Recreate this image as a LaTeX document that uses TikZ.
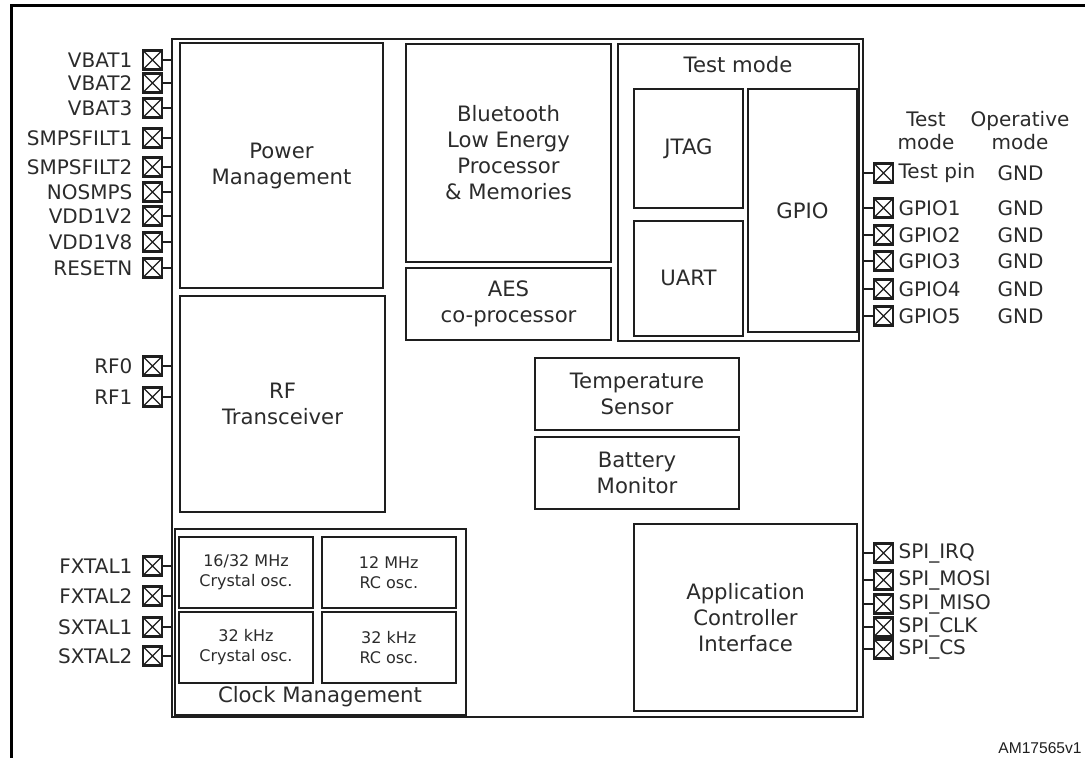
\documentclass[tikz,border=0pt]{standalone}
\usepackage{fontspec}
\setmainfont{DejaVu Sans}
\newfontfamily\idfont{Liberation Sans}
\usepackage{tikz}
\usetikzlibrary{positioning}

\definecolor{ink}{HTML}{1E1E1E}
\definecolor{txt}{HTML}{2B2B2B}

\begin{document}
\begin{tikzpicture}[x=0.5pt,y=-0.5pt,line join=miter,
                    block/.style={draw=ink,line width=0.9pt,align=center,text=txt,inner sep=0pt,
                                  font=\fontsize{10.6}{13}\selectfont},
                    osc/.style={block,minimum width=67pt,minimum height=35.5pt,
                                font=\fontsize{8}{10}\selectfont},
                    title/.style={text=txt,font=\fontsize{10.6}{13}\selectfont},
                    small/.style={text=txt,font=\fontsize{10}{11.5}\selectfont},
                    pad/.style={draw=ink,line width=1.2pt,minimum size=9.5pt,inner sep=0pt,
                                path picture={\draw[ink,line width=0.6pt]
                                  (path picture bounding box.south west) -- (path picture bounding box.north east)
                                  (path picture bounding box.north west) -- (path picture bounding box.south east);}},
                    padL/.style={pad,label={[label distance=4.5pt]left:#1}},
                    padR/.style={pad,label={[label distance=2pt]right:#1}},
                    every label/.style={text=txt,inner sep=0pt,font=\fontsize{10}{11.5}\selectfont},
                    wire/.style={draw=ink,line width=0.7pt},
                    frame/.style={draw=black,line width=1.5pt}]

  \useasboundingbox (0,0) rectangle (1085,758);
  \draw[frame] (1085,6) -| (11,758);

  % chip and its blocks
  \node[block,minimum width=345.5pt,minimum height=339pt] (chip) at (517.5,378) {};

  \node[block,minimum width=101.5pt,minimum height=122.5pt] (pm)  at (281.5,165.5) {Power\\Management};
  \node[block,minimum width=102.5pt,minimum height=108pt]   (rf)  at (282.5,404)   {RF\\Transceiver};
  \node[block,minimum width=102.5pt,minimum height=109pt]   (ble) at (508.5,153)   {Bluetooth\\Low Energy\\Processor\\\& Memories};
  \node[block,minimum width=102.5pt,minimum height=36pt]    (aes) [below=2pt of ble] {AES\\co-processor};

  \node[block,minimum width=120.5pt,minimum height=148.5pt] (test) at (738.5,192.5) {};
  \node[title] (testname) at (738,65) {Test mode};
  \node[block,minimum width=54.5pt,minimum height=59.5pt]  (jtag) at (688.5,148.5) {JTAG};
  \node[block,minimum width=54.5pt,minimum height=57.5pt]  (uart) [below=5.5pt of jtag] {UART};
  \node[block,minimum width=54.5pt,minimum height=121.5pt] (gpio) at (802.5,210.5) {GPIO};

  \node[block,minimum width=102pt,minimum height=36pt] (temp) at (637,394) {Temperature\\Sensor};
  \node[block,minimum width=102pt,minimum height=36pt] (batt) [below=2.5pt of temp] {Battery\\Monitor};

  \node[block,minimum width=111.5pt,minimum height=93.5pt] (aci) at (745.5,617.5) {Application\\Controller\\Interface};

  \node[block,minimum width=145.5pt,minimum height=93pt] (clk) at (320.5,622) {};
  \node[title] (clkname) at (320,697) {Clock Management};
  \node[osc] (hsxo) at (246,572.5) {16/32 MHz\\Crystal osc.};
  \node[osc] (hsrc) [right=3.5pt of hsxo] {12 MHz\\RC osc.};
  \node[osc] (lsxo) at (246,647.5) {32 kHz\\Crystal osc.};
  \node[osc] (lsrc) [right=3.5pt of lsxo] {32 kHz\\RC osc.};

  % left pads
  \node[padL=VBAT1]     (vbat1)  at (152.5,60)  {};
  \node[padL=VBAT2]     (vbat2)  at (152.5,83)  {};
  \node[padL=VBAT3]     (vbat3)  at (152.5,108) {};
  \node[padL=SMPSFILT1] (smps1)  at (152.5,138) {};
  \node[padL=SMPSFILT2] (smps2)  at (152.5,167) {};
  \node[padL=NOSMPS]    (nosmps) at (152.5,192) {};
  \node[padL=VDD1V2]    (vdd12)  at (152.5,216) {};
  \node[padL=VDD1V8]    (vdd18)  at (152.5,242) {};
  \node[padL=RESETN]    (resetn) at (152.5,268) {};
  \node[padL=RF0]       (rf0)    at (152.5,366) {};
  \node[padL=RF1]       (rf1)    at (152.5,397) {};
  \node[padL=FXTAL1]    (fx1)    at (152.5,566) {};
  \node[padL=FXTAL2]    (fx2)    at (152.5,596) {};
  \node[padL=SXTAL1]    (sx1)    at (152.5,627) {};
  \node[padL=SXTAL2]    (sx2)    at (152.5,656) {};

  % right pads
  \node[small,align=center] (hdtest) at (926,130.5)  {Test\\mode};
  \node[small,align=center] (hdop)   at (1020,130.5) {Operative\\mode};

  \node[padR=Test pin]  (tpin)  at (883.5,173) {};
  \node[padR=GPIO1]     (gpio1) at (883.5,208) {};
  \node[padR=GPIO2]     (gpio2) at (883.5,235) {};
  \node[padR=GPIO3]     (gpio3) at (883.5,261) {};
  \node[padR=GPIO4]     (gpio4) at (883.5,289) {};
  \node[padR=GPIO5]     (gpio5) at (883.5,316) {};
  \node[padR=SPI\_IRQ]  (irq)   at (883.5,553) {};
  \node[padR=SPI\_MOSI] (mosi)  at (883.5,580) {};
  \node[padR=SPI\_MISO] (miso)  at (883.5,604) {};
  \node[padR=SPI\_CLK]  (sclk)  at (883.5,627) {};
  \node[padR=SPI\_CS]   (cs)    at (883.5,649) {};

  \node[small] (gnd0) at (1020.5,173) {GND};
  \node[small] (gnd1) at (1020.5,208) {GND};
  \node[small] (gnd2) at (1020.5,235) {GND};
  \node[small] (gnd3) at (1020.5,261) {GND};
  \node[small] (gnd4) at (1020.5,289) {GND};
  \node[small] (gnd5) at (1020.5,316) {GND};

  \node[anchor=east,text=ink,inner sep=0pt,font=\idfont\fontsize{7.8}{9}\selectfont] (figid) at (1082,748) {AM17565v1};

  \path[wire]
    (vbat1)  edge (vbat1 -| chip.west)
    (vbat2)  edge (vbat2 -| chip.west)
    (vbat3)  edge (vbat3 -| chip.west)
    (smps1)  edge (smps1 -| chip.west)
    (smps2)  edge (smps2 -| chip.west)
    (nosmps) edge (nosmps -| chip.west)
    (vdd12)  edge (vdd12 -| chip.west)
    (vdd18)  edge (vdd18 -| chip.west)
    (resetn) edge (resetn -| chip.west)
    (rf0)    edge (rf0 -| chip.west)
    (rf1)    edge (rf1 -| chip.west)
    (fx1)    edge (fx1 -| chip.west)
    (fx2)    edge (fx2 -| chip.west)
    (sx1)    edge (sx1 -| chip.west)
    (sx2)    edge (sx2 -| chip.west)
    (tpin)   edge (tpin -| chip.east)
    (gpio1)  edge (gpio1 -| chip.east)
    (gpio2)  edge (gpio2 -| chip.east)
    (gpio3)  edge (gpio3 -| chip.east)
    (gpio4)  edge (gpio4 -| chip.east)
    (gpio5)  edge (gpio5 -| chip.east)
    (irq)    edge (irq -| chip.east)
    (mosi)   edge (mosi -| chip.east)
    (miso)   edge (miso -| chip.east)
    (sclk)   edge (sclk -| chip.east)
    (cs)     edge (cs -| chip.east);
\end{tikzpicture}
\end{document}
